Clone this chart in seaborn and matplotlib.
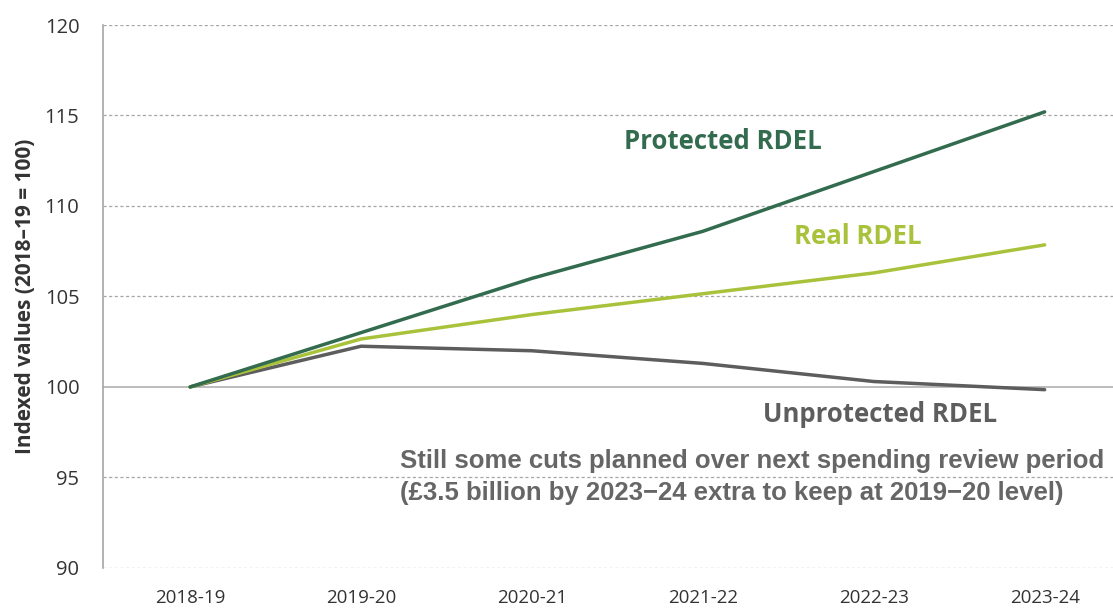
import matplotlib
matplotlib.use("Agg")
import matplotlib.pyplot as plt
import seaborn as sns
import pandas as pd

years = ["2018-19", "2019-20", "2020-21", "2021-22", "2022-23", "2023-24"]
protected = [100.0, 103.0, 106.0, 108.6, 111.9, 115.2]
real = [100.0, 102.65, 104.0, 105.15, 106.3, 107.85]
unprotected = [100.0, 102.25, 102.0, 101.3, 100.3, 99.85]

series_names = ["Protected RDEL", "Real RDEL", "Unprotected RDEL"]
colors = {"Protected RDEL": "#336b4f", "Real RDEL": "#a9c23b", "Unprotected RDEL": "#5d5d5d"}

rows = []
for name, vals in zip(series_names, [protected, real, unprotected]):
    for i, (y, v) in enumerate(zip(years, vals)):
        rows.append({"pos": i, "year": y, "value": v, "series": name})
df = pd.DataFrame(rows)

sns.set_theme(style="white")
plt.rcParams['font.family'] = ['Open Sans', 'DejaVu Sans']

fig = plt.figure(figsize=(11.13, 6.10), dpi=100)
ax = fig.add_axes([0.0925, 0.069, 0.9075, 0.89])

# grid
for v in [90, 95, 105, 110, 115, 120]:
    ax.axhline(v, color="#a6a6a6", linestyle=(0, (2.5, 2)), linewidth=0.9, zorder=0)
ax.axhline(100, color="#b0b0b0", linestyle="-", linewidth=1.2, zorder=0)

sns.lineplot(data=df, x="pos", y="value", hue="series", palette=colors,
             hue_order=["Unprotected RDEL", "Real RDEL", "Protected RDEL"],
             linewidth=2.5, legend=False, ax=ax)

ax.set_xlim(-0.51, 5.4)
ax.set_ylim(90, 120)
ax.set_xticks(range(len(years)))
ax.set_xticklabels(years)
ax.set_yticks([90, 95, 100, 105, 110, 115, 120])

for s in ["top", "right", "bottom"]:
    ax.spines[s].set_visible(False)
ax.spines["left"].set_color("#a6a6a6")
ax.spines["left"].set_linewidth(1.2)

ax.tick_params(axis="y", length=6, color="#a6a6a6", width=1.0, labelsize=14.5, labelcolor="#333333", pad=11)
ax.tick_params(axis="x", length=0, labelsize=13.5, labelcolor="#333333", pad=15)

ax.set_xlabel("")
ax.set_ylabel("Indexed values (2018\u201319 = 100)", fontsize=15, fontweight="bold", color="#333333")
ax.yaxis.set_label_coords(-0.066, 0.5)

ax.text(2.538, 113.59, "Protected RDEL", color="#336b4f", fontsize=18.5, fontweight="bold", va="center", ha="left")
ax.text(3.535, 108.29, "Real RDEL", color="#a9c23b", fontsize=18.5, fontweight="bold", va="center", ha="left")
ax.text(3.353, 98.45, "Unprotected RDEL", color="#5d5d5d", fontsize=18.5, fontweight="bold", va="center", ha="left")
ax.text(1.231, 95.91, "Still some cuts planned over next spending review period",
        color="#666666", fontsize=18.5, fontweight="bold", va="center", ha="left", family=["Liberation Sans", "DejaVu Sans"])
ax.text(1.231, 94.14, "(\u00a33.5 billion by 2023\u221224 extra to keep at 2019\u221220 level)",
        color="#666666", fontsize=18.5, fontweight="bold", va="center", ha="left", family=["Liberation Sans", "DejaVu Sans"])

fig.savefig("out.png", dpi=100)
